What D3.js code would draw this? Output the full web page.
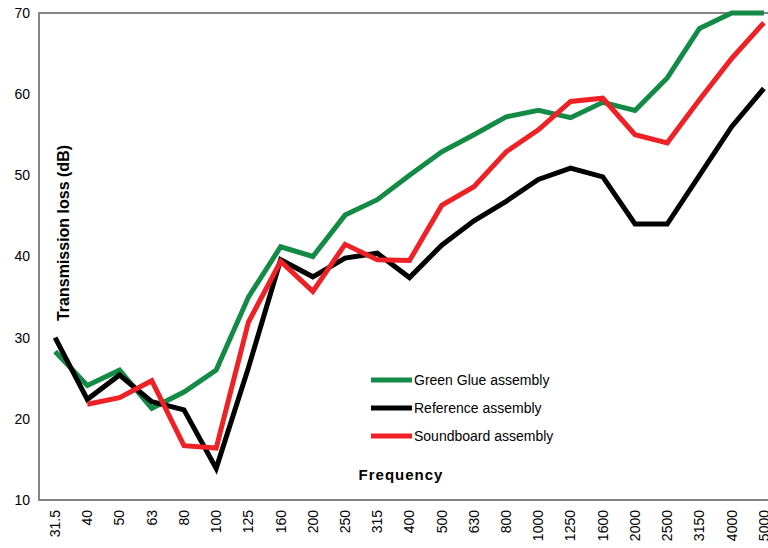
<!DOCTYPE html>
<html>
<head>
<meta charset="utf-8">
<script src="https://cdn.jsdelivr.net/npm/d3@7"></script>
<style>
  html, body { margin: 0; padding: 0; background: #fff; overflow: hidden; }
  body { width: 768px; height: 548px; }
  text { font-family: "Liberation Sans", Arial, sans-serif; }
</style>
</head>
<body>
<svg width="768" height="548"></svg>
<script>
(function (d3) {
  'use strict';

  const frequencies = ['31.5','40','50','63','80','100','125','160','200','250','315','400',
    '500','630','800','1000','1250','1600','2000','2500','3150','4000','5000'];
  const greenGlue = [28.3,24.1,26,21.3,23.3,26,35,41.2,40,45.1,47,50,52.9,55,57.2,58,57.1,59,58,62,68.1,70,70];
  const reference = [30,22.4,25.4,22.1,21.1,13.9,26.3,39.6,37.5,39.8,40.4,37.4,41.4,44.4,46.8,49.5,50.9,49.8,44,44,50,56,60.7];
  const soundboard = [null,21.8,22.6,24.7,16.7,16.4,31.9,39.4,35.7,41.5,39.6,39.5,46.3,48.6,52.9,55.6,59.1,59.5,55,54,59.3,64.4,68.8];
  const yTicks = [10,20,30,40,50,60,70];

  const series = [
    { name: 'Green Glue assembly', values: greenGlue, color: '#138a45' },
    { name: 'Reference assembly', values: reference, color: '#000000' },
    { name: 'Soundboard assembly', values: soundboard, color: '#ee2226' }
  ];

  const svg = d3.select('svg');
  const margin = { top: 13, left: 39, bottom: 48 };
  const plotRight = 780;
  const innerHeight = 548 - margin.top - margin.bottom;

  const x = d3.scalePoint().domain(frequencies).range([margin.left, plotRight]).padding(0.5);
  const y = d3.scaleLinear().domain([10, 70]).range([margin.top + innerHeight, margin.top]);

  // frame
  svg.append('rect')
      .attr('x', margin.left)
      .attr('y', margin.top)
      .attr('width', plotRight - margin.left)
      .attr('height', innerHeight)
      .attr('fill', 'none')
      .attr('stroke', '#858585')
      .attr('stroke-width', 2);

  // y tick labels
  svg.append('g').selectAll('text').data(yTicks)
    .enter().append('text')
      .attr('x', 30)
      .attr('y', d => y(d))
      .attr('dy', '0.35em')
      .attr('text-anchor', 'end')
      .attr('font-size', 14)
      .text(d => d);

  // x tick labels (the last one runs off the right edge, as in the original)
  svg.append('g').selectAll('text').data(frequencies)
    .enter().append('text')
      .attr('transform', d => `translate(${x(d)},${y(10) + 10}) rotate(-90)`)
      .attr('dy', '0.35em')
      .attr('text-anchor', 'end')
      .attr('font-size', 14)
      .text(d => d);

  const line = d3.line()
    .defined(d => d != null)
    .x((d, i) => x(frequencies[i]))
    .y(d => y(d));

  svg.append('g').selectAll('path').data(series)
    .enter().append('path')
      .attr('d', d => line(d.values))
      .attr('fill', 'none')
      .attr('stroke', d => d.color)
      .attr('stroke-width', 5)
      .attr('stroke-linejoin', 'miter');

  // legend
  const legend = svg.append('g').selectAll('g').data(series)
    .enter().append('g')
      .attr('transform', (d, i) => `translate(371,${380 + i * 28})`);
  legend.append('line')
      .attr('x1', 0).attr('x2', 41)
      .attr('stroke', d => d.color)
      .attr('stroke-width', 5);
  legend.append('text')
      .attr('x', 43)
      .attr('dy', '0.35em')
      .attr('font-size', 14)
      .text(d => d.name);

  // axis titles
  svg.append('text')
      .attr('x', 401)
      .attr('y', 475)
      .attr('dy', '0.35em')
      .attr('text-anchor', 'middle')
      .attr('font-size', 15)
      .attr('letter-spacing', 1)
      .attr('font-weight', 'bold')
      .text('Frequency');

  svg.append('text')
      .attr('transform', 'translate(63,233) rotate(-90)')
      .attr('dy', '0.35em')
      .attr('text-anchor', 'middle')
      .attr('font-size', 16)
      .attr('font-weight', 'bold')
      .text('Transmission loss (dB)');

}(d3));
</script>
</body>
</html>
